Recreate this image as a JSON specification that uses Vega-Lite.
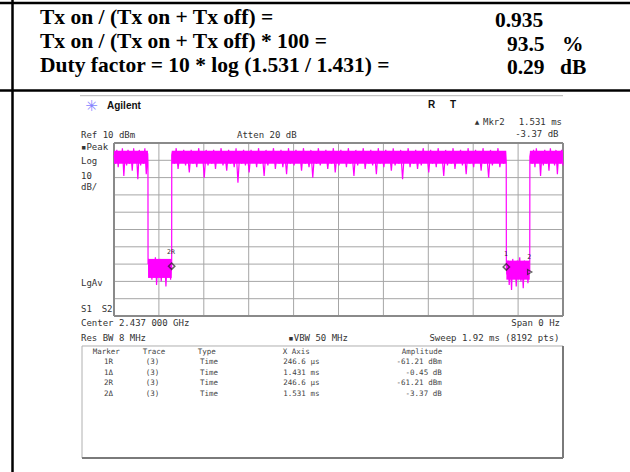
{
  "$schema": "https://vega.github.io/schema/vega-lite/v6.json",
  "width": 449,
  "height": 173,
  "autosize": {"type": "none"},
  "padding": {"left": 114, "top": 143, "right": 67, "bottom": 156},
  "background": "white",
  "config": {"view": {"stroke": null}},
  "datasets": {
    "trace": [
      {"t":0.000,"d":3},{"t":0.006,"d":-2},{"t":0.012,"d":6},{"t":0.018,"d":-4},{"t":0.024,"d":5},{"t":0.030,"d":-1},{"t":0.036,"d":7},{"t":0.042,"d":-9},{"t":0.048,"d":4},{"t":0.054,"d":-3},{"t":0.060,"d":6},{"t":0.066,"d":-2},{"t":0.072,"d":5},{"t":0.078,"d":-6},{"t":0.084,"d":7},{"t":0.090,"d":-1},{"t":0.096,"d":4},{"t":0.102,"d":-11},{"t":0.108,"d":6},{"t":0.114,"d":-3},{"t":0.120,"d":5},{"t":0.126,"d":-2},{"t":0.132,"d":7},{"t":0.138,"d":-8},{"t":0.144,"d":4},
      {"t":0.1452,"d":-1},{"t":0.1456,"d":-60},
      {"t":0.147,"d":-57},{"t":0.152,"d":-66},{"t":0.157,"d":-59},{"t":0.162,"d":-69},{"t":0.167,"d":-58},{"t":0.172,"d":-64},{"t":0.177,"d":-56},{"t":0.182,"d":-72},{"t":0.187,"d":-60},{"t":0.192,"d":-67},{"t":0.197,"d":-57},{"t":0.202,"d":-70},{"t":0.207,"d":-59},{"t":0.212,"d":-65},{"t":0.217,"d":-58},{"t":0.222,"d":-73},{"t":0.227,"d":-60},{"t":0.232,"d":-66},{"t":0.237,"d":-58},{"t":0.242,"d":-69},{"t":0.2455,"d":-61},
      {"t":0.2466,"d":-61.2},{"t":0.2470,"d":3},
      {"t":0.250,"d":5},{"t":0.258,"d":-2},{"t":0.266,"d":7},{"t":0.274,"d":-5},{"t":0.282,"d":4},{"t":0.290,"d":-1},{"t":0.298,"d":6},{"t":0.306,"d":-3},{"t":0.314,"d":5},{"t":0.322,"d":-7},
      {"t":0.330,"d":6},{"t":0.338,"d":-2},{"t":0.346,"d":4},{"t":0.354,"d":-4},{"t":0.362,"d":7},{"t":0.370,"d":-1},{"t":0.378,"d":5},{"t":0.386,"d":-10},{"t":0.394,"d":6},{"t":0.402,"d":-3},
      {"t":0.410,"d":4},{"t":0.418,"d":-2},{"t":0.426,"d":6},{"t":0.434,"d":-5},{"t":0.442,"d":5},{"t":0.450,"d":-1},{"t":0.458,"d":7},{"t":0.466,"d":-3},{"t":0.474,"d":4},{"t":0.482,"d":-6},
      {"t":0.490,"d":6},{"t":0.498,"d":-2},{"t":0.506,"d":5},{"t":0.514,"d":-4},{"t":0.522,"d":7},{"t":0.530,"d":-13},{"t":0.538,"d":5},{"t":0.546,"d":-2},{"t":0.554,"d":6},{"t":0.562,"d":-3},
      {"t":0.570,"d":4},{"t":0.578,"d":-7},{"t":0.586,"d":6},{"t":0.594,"d":-1},{"t":0.602,"d":5},{"t":0.610,"d":-4},{"t":0.618,"d":7},{"t":0.626,"d":-2},{"t":0.634,"d":4},{"t":0.642,"d":-9},
      {"t":0.650,"d":6},{"t":0.658,"d":-3},{"t":0.666,"d":5},{"t":0.674,"d":-1},{"t":0.682,"d":7},{"t":0.690,"d":-5},{"t":0.698,"d":4},{"t":0.706,"d":-2},{"t":0.714,"d":6},{"t":0.722,"d":-4},
      {"t":0.730,"d":5},{"t":0.738,"d":-8},{"t":0.746,"d":7},{"t":0.754,"d":-2},{"t":0.762,"d":4},{"t":0.770,"d":-3},{"t":0.778,"d":6},{"t":0.786,"d":-1},{"t":0.794,"d":5},{"t":0.802,"d":-6},
      {"t":0.810,"d":7},{"t":0.818,"d":-2},{"t":0.826,"d":4},{"t":0.834,"d":-4},{"t":0.842,"d":6},{"t":0.850,"d":-10},{"t":0.858,"d":5},{"t":0.866,"d":-2},{"t":0.874,"d":7},{"t":0.882,"d":-3},
      {"t":0.890,"d":4},{"t":0.898,"d":-1},{"t":0.906,"d":6},{"t":0.914,"d":-5},{"t":0.922,"d":5},{"t":0.930,"d":-2},{"t":0.938,"d":7},{"t":0.946,"d":-7},{"t":0.954,"d":4},{"t":0.962,"d":-3},
      {"t":0.970,"d":6},{"t":0.978,"d":-1},{"t":0.986,"d":5},{"t":0.994,"d":-4},{"t":1.002,"d":7},{"t":1.010,"d":-2},{"t":1.018,"d":4},{"t":1.026,"d":-9},{"t":1.034,"d":6},{"t":1.042,"d":-3},
      {"t":1.050,"d":5},{"t":1.058,"d":-1},{"t":1.066,"d":7},{"t":1.074,"d":-5},{"t":1.082,"d":4},{"t":1.090,"d":-2},{"t":1.098,"d":6},{"t":1.106,"d":-3},{"t":1.114,"d":5},{"t":1.122,"d":-8},
      {"t":1.130,"d":7},{"t":1.138,"d":-2},{"t":1.146,"d":4},{"t":1.154,"d":-4},{"t":1.162,"d":6},{"t":1.170,"d":-1},{"t":1.178,"d":5},{"t":1.186,"d":-6},{"t":1.194,"d":7},{"t":1.202,"d":-3},
      {"t":1.210,"d":4},{"t":1.218,"d":-2},{"t":1.226,"d":6},{"t":1.234,"d":-11},{"t":1.242,"d":5},{"t":1.250,"d":-1},{"t":1.258,"d":7},{"t":1.266,"d":-4},{"t":1.274,"d":4},{"t":1.282,"d":-2},
      {"t":1.290,"d":6},{"t":1.298,"d":-5},{"t":1.306,"d":5},{"t":1.314,"d":-3},{"t":1.322,"d":7},{"t":1.330,"d":-1},{"t":1.338,"d":4},{"t":1.346,"d":-7},{"t":1.354,"d":6},{"t":1.362,"d":-2},
      {"t":1.370,"d":5},{"t":1.378,"d":-4},{"t":1.386,"d":7},{"t":1.394,"d":-1},{"t":1.402,"d":4},{"t":1.410,"d":-9},{"t":1.418,"d":6},{"t":1.426,"d":-3},{"t":1.434,"d":5},{"t":1.442,"d":-2},
      {"t":1.450,"d":7},{"t":1.458,"d":-5},{"t":1.466,"d":4},{"t":1.474,"d":-1},{"t":1.482,"d":6},{"t":1.490,"d":-3},{"t":1.498,"d":5},{"t":1.506,"d":-8},{"t":1.514,"d":7},{"t":1.522,"d":-2},
      {"t":1.530,"d":4},{"t":1.538,"d":-4},{"t":1.546,"d":6},{"t":1.554,"d":-1},{"t":1.562,"d":5},{"t":1.570,"d":-6},{"t":1.578,"d":7},{"t":1.586,"d":-2},{"t":1.594,"d":4},{"t":1.602,"d":-10},
      {"t":1.610,"d":6},{"t":1.618,"d":-3},{"t":1.626,"d":5},{"t":1.634,"d":-1},{"t":1.642,"d":7},{"t":1.650,"d":-4},{"t":1.658,"d":4},{"t":1.666,"d":-2},{"t":1.674,"d":5},
      {"t":1.6772,"d":-1},{"t":1.6778,"d":-61.7},
      {"t":1.680,"d":-66},{"t":1.685,"d":-58},{"t":1.690,"d":-72},{"t":1.695,"d":-60},{"t":1.700,"d":-75},{"t":1.705,"d":-57},{"t":1.710,"d":-67},{"t":1.715,"d":-59},{"t":1.720,"d":-73},{"t":1.725,"d":-58},{"t":1.730,"d":-64},{"t":1.735,"d":-56},{"t":1.740,"d":-70},{"t":1.745,"d":-60},{"t":1.750,"d":-74},{"t":1.755,"d":-58},{"t":1.760,"d":-66},{"t":1.765,"d":-59},{"t":1.770,"d":-71},{"t":1.775,"d":-62},
      {"t":1.7778,"d":-64.6},{"t":1.7784,"d":2},
      {"t":1.782,"d":5},{"t":1.788,"d":-2},{"t":1.794,"d":6},{"t":1.800,"d":-4},{"t":1.806,"d":7},{"t":1.812,"d":-1},{"t":1.818,"d":5},{"t":1.824,"d":-9},{"t":1.830,"d":4},{"t":1.836,"d":-3},{"t":1.842,"d":6},{"t":1.848,"d":-2},{"t":1.854,"d":5},{"t":1.860,"d":-6},{"t":1.866,"d":7},{"t":1.872,"d":-1},{"t":1.878,"d":4},{"t":1.884,"d":-3},{"t":1.890,"d":6},{"t":1.896,"d":-8},{"t":1.902,"d":5},{"t":1.908,"d":-2},{"t":1.914,"d":6},{"t":1.920,"d":-3}
    ],
    "traceCore": [
      {"t":0.0,"t2":0.1452,"d":-2,"d2":5.5},
      {"t":0.1456,"t2":0.2466,"d":-68,"d2":-57},
      {"t":0.2470,"t2":1.6772,"d":-2,"d2":5.5},
      {"t":1.6778,"t2":1.7778,"d":-69,"d2":-58},
      {"t":1.7784,"t2":1.92,"d":-2,"d2":5.5}
    ],
    "grid": [
      {"t":0.192,"d":-90,"t2":0.192,"d2":10},{"t":0.384,"d":-90,"t2":0.384,"d2":10},{"t":0.576,"d":-90,"t2":0.576,"d2":10},
      {"t":0.768,"d":-90,"t2":0.768,"d2":10},{"t":0.96,"d":-90,"t2":0.96,"d2":10},{"t":1.152,"d":-90,"t2":1.152,"d2":10},
      {"t":1.344,"d":-90,"t2":1.344,"d2":10},{"t":1.536,"d":-90,"t2":1.536,"d2":10},{"t":1.728,"d":-90,"t2":1.728,"d2":10},
      {"t":0,"d":0,"t2":1.92,"d2":0},{"t":0,"d":-10,"t2":1.92,"d2":-10},{"t":0,"d":-20,"t2":1.92,"d2":-20},
      {"t":0,"d":-30,"t2":1.92,"d2":-30},{"t":0,"d":-40,"t2":1.92,"d2":-40},{"t":0,"d":-50,"t2":1.92,"d2":-50},
      {"t":0,"d":-60,"t2":1.92,"d2":-60},{"t":0,"d":-70,"t2":1.92,"d2":-70},{"t":0,"d":-80,"t2":1.92,"d2":-80}
    ],
    "frame": [
      {"t":0,"d":10,"t2":1.92,"d2":10},
      {"t":0,"d":-90,"t2":1.92,"d2":-90},
      {"t":0,"d":-90,"t2":0,"d2":10},
      {"t":1.92,"d":-90,"t2":1.92,"d2":10}
    ],
    "tableLines": [
      {"t":-0.4875,"d":90.92,"t2":2.2065,"d2":90.92},
      {"t":-0.4875,"d":40.35,"t2":2.2065,"d2":40.35},
      {"t":-0.434,"d":92.66,"t2":-0.434,"d2":-180.17}
    ],
    "boxLight": [
      {"t":-0.1368,"d":-107.34,"t2":1.92,"d2":-107.34},
      {"t":-0.1368,"d":-107.34,"t2":-0.1368,"d2":-172.08}
    ],
    "boxDark": [
      {"t":1.92,"d":-107.34,"t2":1.92,"d2":-172.08},
      {"t":-0.1368,"d":-172.08,"t2":1.92,"d2":-172.08}
    ],
    "tableText": [
      {"t":-0.3164,"d":78.79,"label":"Tx on / (Tx on + Tx off) ="},
      {"t":-0.3164,"d":65.09,"label":"Tx on / (Tx on + Tx off) * 100 ="},
      {"t":-0.3164,"d":51.21,"label":"Duty factor = 10 * log (1.531 / 1.431) ="},
      {"t":1.6292,"d":77.22,"label":"0.935"},
      {"t":1.6805,"d":63.35,"label":"93.5"},
      {"t":1.9157,"d":63.35,"label":"%"},
      {"t":1.6805,"d":49.88,"label":"0.29"},
      {"t":1.9072,"d":49.88,"label":"dB"}
    ],
    "scopeLeft": [
      {"t":-0.1411,"d":14.91,"label":"Ref 10 dBm"},
      {"t":0.526,"d":14.91,"label":"Atten 20 dB"},
      {"t":1.5779,"d":21.85,"label":"Mkr2"},
      {"t":-0.1411,"d":7.4,"label":"▪Peak"},
      {"t":-0.1411,"d":-0.4,"label":"Log"},
      {"t":-0.1411,"d":-8.79,"label":"10"},
      {"t":-0.1411,"d":-15.72,"label":"dB/"},
      {"t":-0.1411,"d":-70.92,"label":"LgAv"},
      {"t":-0.1411,"d":-85.95,"label":"S1"},
      {"t":-0.0526,"d":-85.95,"label":"S2"},
      {"t":-0.1411,"d":-94.33,"label":"Center 2.437 000 GHz"},
      {"t":-0.1411,"d":-102.89,"label":"Res BW 8 MHz"},
      {"t":0.7453,"d":-102.89,"label":"▪VBW 50 MHz"}
    ],
    "scopeRight": [
      {"t":1.9008,"d":15.2,"label":"-3.37 dB"},
      {"t":1.9157,"d":21.85,"label":"1.531 ms"},
      {"t":1.9072,"d":-94.33,"label":"Span 0 Hz"},
      {"t":1.905,"d":-102.89,"label":"Sweep 1.92 ms (8192 pts)"}
    ],
    "mkTableLeft": [
      {"t":-0.0911,"d":-110.63,"label":"Marker"},
      {"t":0.1227,"d":-110.63,"label":"Trace"},
      {"t":0.3579,"d":-110.63,"label":"Type"},
      {"t":0.7214,"d":-110.63,"label":"X Axis"},
      {"t":1.2303,"d":-110.63,"label":"Amplitude"},
      {"t":-0.0428,"d":-116.41,"label":"1R"},
      {"t":0.1356,"d":-116.41,"label":"(3)"},
      {"t":0.3678,"d":-116.41,"label":"Time"},
      {"t":0.724,"d":-116.41,"label":"246.6 µs"},
      {"t":-0.0428,"d":-122.77,"label":"1Δ"},
      {"t":0.1356,"d":-122.77,"label":"(3)"},
      {"t":0.3678,"d":-122.77,"label":"Time"},
      {"t":0.724,"d":-122.77,"label":"1.431 ms"},
      {"t":-0.0428,"d":-128.9,"label":"2R"},
      {"t":0.1356,"d":-128.9,"label":"(3)"},
      {"t":0.3678,"d":-128.9,"label":"Time"},
      {"t":0.724,"d":-128.9,"label":"246.6 µs"},
      {"t":-0.0428,"d":-135.09,"label":"2Δ"},
      {"t":0.1356,"d":-135.09,"label":"(3)"},
      {"t":0.3678,"d":-135.09,"label":"Time"},
      {"t":0.724,"d":-135.09,"label":"1.531 ms"}
    ],
    "mkTableRight": [
      {"t":1.4013,"d":-116.41,"label":"-61.21 dBm"},
      {"t":1.4013,"d":-122.77,"label":"-0.45 dB"},
      {"t":1.4013,"d":-128.9,"label":"-61.21 dBm"},
      {"t":1.4013,"d":-135.09,"label":"-3.37 dB"}
    ],
    "brand": [
      {"t":-0.0299,"d":31.56,"label":"Agilent"},
      {"t":1.3427,"d":31.96,"label":"R"},
      {"t":1.4368,"d":31.96,"label":"T"}
    ],
    "markerLabels": [
      {"t":0.2437,"d":-53.0,"label":"2R"},
      {"t":1.6763,"d":-54.2,"label":"1"},
      {"t":1.7759,"d":-56.1,"label":"2"}
    ],
    "markerDiamonds": [
      {"t":0.2466,"d":-61.21},
      {"t":1.6776,"d":-61.66}
    ],
    "markerArrow": [
      {"t":1.7776,"d":-64.58}
    ]
  },
  "encoding": {
    "x": {"field": "t", "type": "quantitative", "scale": {"domain": [0, 1.92], "nice": false, "zero": false}, "axis": null},
    "y": {"field": "d", "type": "quantitative", "scale": {"domain": [-90, 10], "nice": false, "zero": false}, "axis": null}
  },
  "layer": [
    {
      "data": {"name": "tableLines"},
      "mark": {"type": "rule", "color": "black", "strokeWidth": 2.5},
      "encoding": {"x2": {"field": "t2"}, "y2": {"field": "d2"}}
    },
    {
      "data": {"values": [{"t": -0.1454, "d": 37.34, "t2": 1.92, "d2": 37.34}]},
      "mark": {"type": "rule", "color": "#b4b4b4", "strokeWidth": 1},
      "encoding": {"x2": {"field": "t2"}, "y2": {"field": "d2"}}
    },
    {
      "data": {"name": "tableText"},
      "mark": {"type": "text", "font": "Liberation Serif", "fontWeight": "bold", "fontSize": 21.5, "align": "left", "baseline": "alphabetic", "color": "black"},
      "encoding": {"text": {"field": "label"}}
    },
    {
      "data": {"name": "grid"},
      "mark": {"type": "rule", "color": "#a6a6a6", "strokeWidth": 1},
      "encoding": {"x2": {"field": "t2"}, "y2": {"field": "d2"}}
    },
    {
      "data": {"name": "frame"},
      "mark": {"type": "rule", "color": "#8a8a8a", "strokeWidth": 2},
      "encoding": {"x2": {"field": "t2"}, "y2": {"field": "d2"}}
    },
    {
      "data": {"name": "traceCore"},
      "mark": {"type": "rect", "color": "#ff00ff"},
      "encoding": {"x2": {"field": "t2"}, "y2": {"field": "d2"}}
    },
    {
      "data": {"name": "trace"},
      "mark": {"type": "line", "color": "#ff00ff", "strokeWidth": 1.2},
      "encoding": {}
    },
    {
      "data": {"name": "markerDiamonds"},
      "mark": {"type": "point", "shape": "diamond", "size": 40, "filled": false, "stroke": "#222222", "strokeWidth": 1.5}
    },
    {
      "data": {"name": "markerArrow"},
      "mark": {"type": "point", "shape": "triangle-right", "size": 25, "filled": false, "stroke": "#222222", "strokeWidth": 1.2}
    },
    {
      "data": {"name": "markerLabels"},
      "mark": {"type": "text", "font": "DejaVu Sans Mono", "fontSize": 6.5, "align": "center", "baseline": "middle", "color": "#333333"},
      "encoding": {"text": {"field": "label"}}
    },
    {
      "data": {"name": "boxLight"},
      "mark": {"type": "rule", "color": "#b0b0b0", "strokeWidth": 1},
      "encoding": {"x2": {"field": "t2"}, "y2": {"field": "d2"}}
    },
    {
      "data": {"name": "boxDark"},
      "mark": {"type": "rule", "color": "#7a7a7a", "strokeWidth": 2},
      "encoding": {"x2": {"field": "t2"}, "y2": {"field": "d2"}}
    },
    {
      "data": {"name": "scopeLeft"},
      "mark": {"type": "text", "font": "DejaVu Sans Mono", "fontSize": 9, "align": "left", "baseline": "middle", "color": "#333333"},
      "encoding": {"text": {"field": "label"}}
    },
    {
      "data": {"name": "scopeRight"},
      "mark": {"type": "text", "font": "DejaVu Sans Mono", "fontSize": 9, "align": "right", "baseline": "middle", "color": "#333333"},
      "encoding": {"text": {"field": "label"}}
    },
    {
      "data": {"name": "mkTableLeft"},
      "mark": {"type": "text", "font": "DejaVu Sans Mono", "fontSize": 7.5, "align": "left", "baseline": "middle", "color": "#444444"},
      "encoding": {"text": {"field": "label"}}
    },
    {
      "data": {"name": "mkTableRight"},
      "mark": {"type": "text", "font": "DejaVu Sans Mono", "fontSize": 7.5, "align": "right", "baseline": "middle", "color": "#444444"},
      "encoding": {"text": {"field": "label"}}
    },
    {
      "data": {"name": "brand"},
      "mark": {"type": "text", "font": "Liberation Sans", "fontWeight": "bold", "fontSize": 10, "align": "left", "baseline": "middle", "color": "#111111"},
      "encoding": {"text": {"field": "label"}}
    },
    {
      "data": {"values": [{"t": -0.0962, "d": 31.39, "label": "✳"}]},
      "mark": {"type": "text", "font": "DejaVu Sans", "fontSize": 15, "align": "center", "baseline": "middle", "color": "#8585ff"},
      "encoding": {"text": {"field": "label"}}
    },
    {
      "data": {"values": [{"t": 1.5523, "d": 21.85, "label": "▲"}]},
      "mark": {"type": "text", "font": "DejaVu Sans", "fontSize": 6, "align": "center", "baseline": "middle", "color": "#333333"},
      "encoding": {"text": {"field": "label"}}
    }
  ]
}
